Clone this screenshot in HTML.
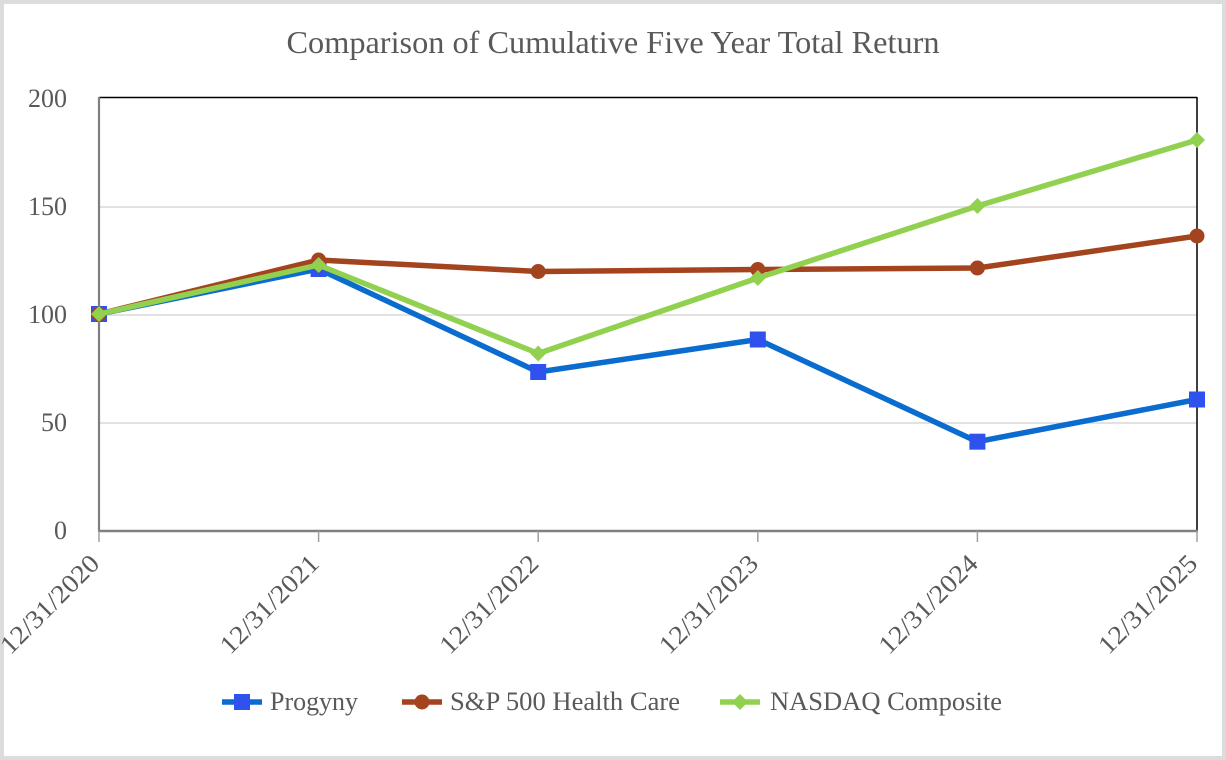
<!DOCTYPE html>
<html><head><meta charset="utf-8"><style>
html,body{margin:0;padding:0;background:#fff;}
svg{display:block;}
text{font-family:"Liberation Serif","Times New Roman",serif;fill:#595959;}
</style></head><body>
<svg width="1226" height="760" viewBox="0 0 1226 760" xmlns="http://www.w3.org/2000/svg">
<rect x="0" y="0" width="1226" height="760" fill="#fff"/>
<rect x="2" y="2" width="1222" height="756" fill="none" stroke="#dcdcdc" stroke-width="4"/>
<text x="613" y="53" font-size="32" text-anchor="middle" textLength="653" lengthAdjust="spacingAndGlyphs">Comparison of Cumulative Five Year Total Return</text>
<!-- gridlines -->
<g stroke="#d9d9d9" stroke-width="1.5">
<line x1="99" y1="207" x2="1197" y2="207"/>
<line x1="99" y1="315" x2="1197" y2="315"/>
<line x1="99" y1="423" x2="1197" y2="423"/>
</g>
<!-- frame -->
<line x1="99" y1="97.5" x2="1197" y2="97.5" stroke="#000" stroke-width="1.5"/>
<line x1="1197" y1="97" x2="1197" y2="531" stroke="#000" stroke-width="1.5"/>
<line x1="99" y1="97" x2="99" y2="532" stroke="#808080" stroke-width="2.2"/>
<line x1="98" y1="531" x2="1198" y2="531" stroke="#808080" stroke-width="2.5"/>
<g stroke="#a0a0a0" stroke-width="1.5">
<line x1="99" y1="531" x2="99" y2="542"/>
<line x1="318.6" y1="531" x2="318.6" y2="542"/>
<line x1="538.2" y1="531" x2="538.2" y2="542"/>
<line x1="757.8" y1="531" x2="757.8" y2="542"/>
<line x1="977.4" y1="531" x2="977.4" y2="542"/>
<line x1="1197" y1="531" x2="1197" y2="542"/>
</g>
<!-- y labels -->
<g font-size="26" text-anchor="end">
<text x="67" y="107">200</text>
<text x="67" y="215">150</text>
<text x="67" y="323">100</text>
<text x="67" y="431">50</text>
<text x="67" y="539">0</text>
</g>
<!-- x labels -->
<g font-size="26" text-anchor="end">
<text transform="translate(101,565) rotate(-45)" textLength="128" lengthAdjust="spacingAndGlyphs">12/31/2020</text>
<text transform="translate(320.6,565) rotate(-45)" textLength="128" lengthAdjust="spacingAndGlyphs">12/31/2021</text>
<text transform="translate(540.2,565) rotate(-45)" textLength="128" lengthAdjust="spacingAndGlyphs">12/31/2022</text>
<text transform="translate(759.8,565) rotate(-45)" textLength="128" lengthAdjust="spacingAndGlyphs">12/31/2023</text>
<text transform="translate(979.4,565) rotate(-45)" textLength="128" lengthAdjust="spacingAndGlyphs">12/31/2024</text>
<text transform="translate(1199,565) rotate(-45)" textLength="128" lengthAdjust="spacingAndGlyphs">12/31/2025</text>
</g>
<!-- Progyny -->
<polyline points="99,314 318.6,269 538.2,372 757.8,339.5 977.4,441.7 1197,399.5" fill="none" stroke="#0b6ccf" stroke-width="5.5" stroke-linejoin="round"/>
<g fill="#2f52ee">
<rect x="91" y="306" width="16" height="16"/>
<rect x="310.6" y="261" width="16" height="16"/>
<rect x="530.2" y="364" width="16" height="16"/>
<rect x="749.8" y="331.5" width="16" height="16"/>
<rect x="969.4" y="433.7" width="16" height="16"/>
<rect x="1189" y="391.5" width="16" height="16"/>
</g>
<!-- S&P -->
<polyline points="99,314 318.6,260 538.2,271.5 757.8,269.5 977.4,268 1197,236" fill="none" stroke="#a3441f" stroke-width="5.5" stroke-linejoin="round"/>
<g fill="#a3441f">
<circle cx="99" cy="314" r="7.5"/>
<circle cx="318.6" cy="260" r="7.5"/>
<circle cx="538.2" cy="271.5" r="7.5"/>
<circle cx="757.8" cy="269.5" r="7.5"/>
<circle cx="977.4" cy="268" r="7.5"/>
<circle cx="1197" cy="236" r="7.5"/>
</g>
<!-- NASDAQ -->
<polyline points="99,314 318.6,265 538.2,353.5 757.8,278 977.4,206 1197,140" fill="none" stroke="#92d14f" stroke-width="5.5" stroke-linejoin="round"/>
<g fill="#92d14f">
<polygon points="99,306 107,314 99,322 91,314"/>
<polygon points="318.6,257 326.6,265 318.6,273 310.6,265"/>
<polygon points="538.2,345.5 546.2,353.5 538.2,361.5 530.2,353.5"/>
<polygon points="757.8,270 765.8,278 757.8,286 749.8,278"/>
<polygon points="977.4,198 985.4,206 977.4,214 969.4,206"/>
<polygon points="1197,132 1205,140 1197,148 1189,140"/>
</g>
<!-- legend -->
<line x1="222" y1="702" x2="262" y2="702" stroke="#0b6ccf" stroke-width="5.5"/>
<rect x="234" y="694" width="16" height="16" fill="#2f52ee"/>
<text x="270" y="710" font-size="26" textLength="88" lengthAdjust="spacingAndGlyphs">Progyny</text>
<line x1="402" y1="702" x2="442" y2="702" stroke="#a3441f" stroke-width="5.5"/>
<circle cx="422" cy="702" r="7.5" fill="#a3441f"/>
<text x="450" y="710" font-size="26" textLength="230" lengthAdjust="spacingAndGlyphs">S&amp;P 500 Health Care</text>
<line x1="720" y1="702" x2="760" y2="702" stroke="#92d14f" stroke-width="5.5"/>
<polygon points="740,694 748,702 740,710 732,702" fill="#92d14f"/>
<text x="770" y="710" font-size="26" textLength="232" lengthAdjust="spacingAndGlyphs">NASDAQ Composite</text>
</svg>
</body></html>
